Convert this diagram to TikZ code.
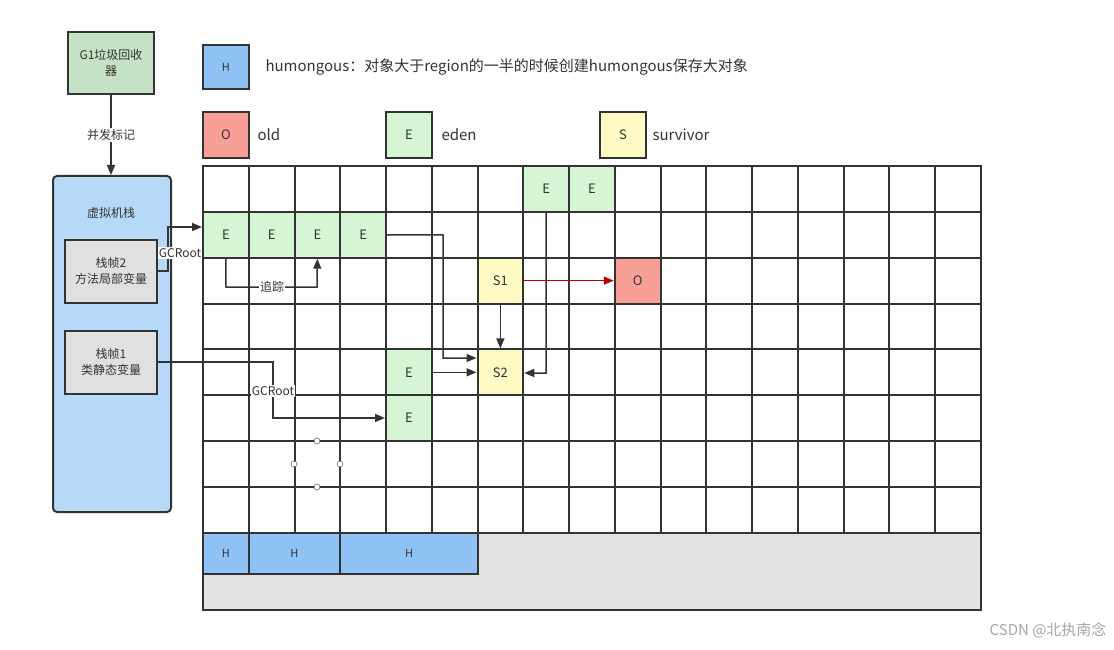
\documentclass[tikz,border=0pt]{standalone}
\usepackage{fontspec}
\setmainfont{Noto Sans CJK SC}
\usetikzlibrary{arrows.meta}
\definecolor{gfill}{HTML}{D5F5D5}
\definecolor{hfill}{HTML}{8FC2F5}
\definecolor{ofill}{HTML}{F8A098}
\definecolor{sfill}{HTML}{FFF9C4}
\definecolor{vfill}{HTML}{B5D9F7}
\definecolor{ffill}{HTML}{E0E0E0}
\definecolor{g1fill}{HTML}{C6E2C4}
\definecolor{ln}{HTML}{333333}
\tikzset{
  cell/.style={draw=ln,line width=2pt,minimum width=45.75pt,minimum height=45.85pt,inner sep=0pt,font=\fontsize{13}{15}\selectfont,text=ln},
  arr/.style={draw=ln,line width=1.5pt,-{Triangle[length=10pt,width=8pt]}},
  lbl/.style={font=\fontsize{12}{14}\selectfont,text=ln,fill=white,inner sep=1pt},
  legtxt/.style={font=\fontsize{15}{17}\selectfont,text=ln,anchor=west},
  handle/.style={draw=ln,fill=white,circle,inner sep=0pt,minimum size=6pt}
}
\begin{document}
\begin{tikzpicture}[x=1pt,y=-1pt]
\useasboundingbox[fill=white] (0,0) rectangle (1114,650);
% gray bottom area
\fill[ffill!90] (203,533) rectangle (981,610);
\draw[ln,line width=2pt] (203,533) rectangle (981,610);
% grid cells
\foreach \i in {0,...,16}{\foreach \j in {0,...,7}{
  \node[cell] at ({203+45.75*(\i+0.5)},{166+45.85*(\j+0.5)}) {};
}}
% colored cells
\newcommand{\cellpos}[2]{({203+45.75*(#1+0.5)},{166+45.85*(#2+0.5)})}
\node[cell,fill=gfill] (e70) at \cellpos{7}{0} {E};
\node[cell,fill=gfill] (e80) at \cellpos{8}{0} {E};
\node[cell,fill=gfill] (e01) at \cellpos{0}{1} {E};
\node[cell,fill=gfill] (e11) at \cellpos{1}{1} {E};
\node[cell,fill=gfill] (e21) at \cellpos{2}{1} {E};
\node[cell,fill=gfill] (e31) at \cellpos{3}{1} {E};
\node[cell,fill=sfill] (s1) at \cellpos{6}{2} {S1};
\node[cell,fill=ofill] (o) at \cellpos{9}{2} {O};
\node[cell,fill=gfill] (e44) at \cellpos{4}{4} {E};
\node[cell,fill=sfill] (s2) at \cellpos{6}{4} {S2};
\node[cell,fill=gfill] (e45) at \cellpos{4}{5} {E};
% H cells
\node[cell,fill=hfill,minimum height=41pt,font=\fontsize{11}{13}\selectfont] (h1) at (226,553.5) {H};
\node[cell,fill=hfill,minimum height=41pt,minimum width=91.5pt,font=\fontsize{11}{13}\selectfont] (h2) at (294.5,553.5) {H};
\node[cell,fill=hfill,minimum height=41pt,minimum width=137.25pt,font=\fontsize{11}{13}\selectfont] (h3) at (409,553.5) {H};
% legend
\node[cell,fill=hfill,minimum width=46pt,minimum height=44pt,font=\fontsize{11}{13}\selectfont] (lh) at (226,67) {H};
\node[legtxt] (lht) at (262,67) {humongous：对象大于region的一半的时候创建humongous保存大对象};
\node[cell,fill=ofill,minimum width=46pt,minimum height=46pt] (lo) at (226,135) {O};
\node[legtxt] (lot) at (254,135) {old};
\node[cell,fill=gfill,minimum width=46pt,minimum height=46pt] (le) at (409,135) {E};
\node[legtxt] (let) at (438,135) {eden};
\node[cell,fill=sfill,minimum width=46pt,minimum height=46pt] (ls) at (623,135) {S};
\node[legtxt] (lst) at (649,135) {survivor};
% left side
\node[draw=ln,line width=2pt,fill=g1fill,minimum width=86pt,minimum height=62pt,align=center,font=\fontsize{12}{16}\selectfont,text=ln] (g1) at (111,63) {G1垃圾回收\\器};
\node[draw=ln,line width=2pt,fill=vfill,rounded corners=4pt,minimum width=118pt,minimum height=336pt] (vm) at (112,344) {};
\node[font=\fontsize{12}{14}\selectfont,text=ln] (vmt) at (111,213) {虚拟机栈};
\node[draw=ln,line width=2pt,fill=ffill,minimum width=92pt,minimum height=63pt,align=center,font=\fontsize{12}{16}\selectfont,text=ln] (f2) at (111,271) {栈帧2\\方法局部变量};
\node[draw=ln,line width=2pt,fill=ffill,minimum width=92pt,minimum height=63pt,align=center,font=\fontsize{12}{16}\selectfont,text=ln] (f1) at (111,362) {栈帧1\\类静态变量};
\draw[arr] (g1) -- node[lbl] {并发标记} (vm.north -| g1);
% connectors
\draw[arr] (f2.east) -- (168,271) -- (168,227) -- (e01.west |- 0,227);
\node[lbl] (gc1) at (180,253) {GCRoot};
\draw[arr] (e01.south) -- (226,287) -- (317,287) -- (e21.south);
\node[lbl] (zz) at (272,287) {追踪};
\draw[arr] (f1.east) -- (273,362) -- (273,418) -- (e45.west |- 0,418);
\node[lbl] (gc2) at (273,391) {GCRoot};
\draw[arr] (e31.east) -- (443,235) -- (443,358) -- (s2.west |- 0,358);
\draw[arr] (e44.east) -- (s2.west |- e44.east);
\draw[arr] (s1.south) -- (s2.north);
\draw[arr] (e70.south) -- (546,373) -- (s2.east |- 0,373);
\draw[line width=1.6pt,draw=red!75!black,-{Triangle[length=10pt,width=8pt]}] (s1.east) -- (o.west);
% selection handles
\node[handle] (hd1) at (317,441) {};
\node[handle] (hd2) at (294,464) {};
\node[handle] (hd3) at (340,464) {};
\node[handle] (hd4) at (317,487) {};
% watermark
\node[font=\fontsize{15}{17}\selectfont,text=gray!70,anchor=east] (wm) at (1110,630) {CSDN @北执南念};
\end{tikzpicture}
\end{document}
